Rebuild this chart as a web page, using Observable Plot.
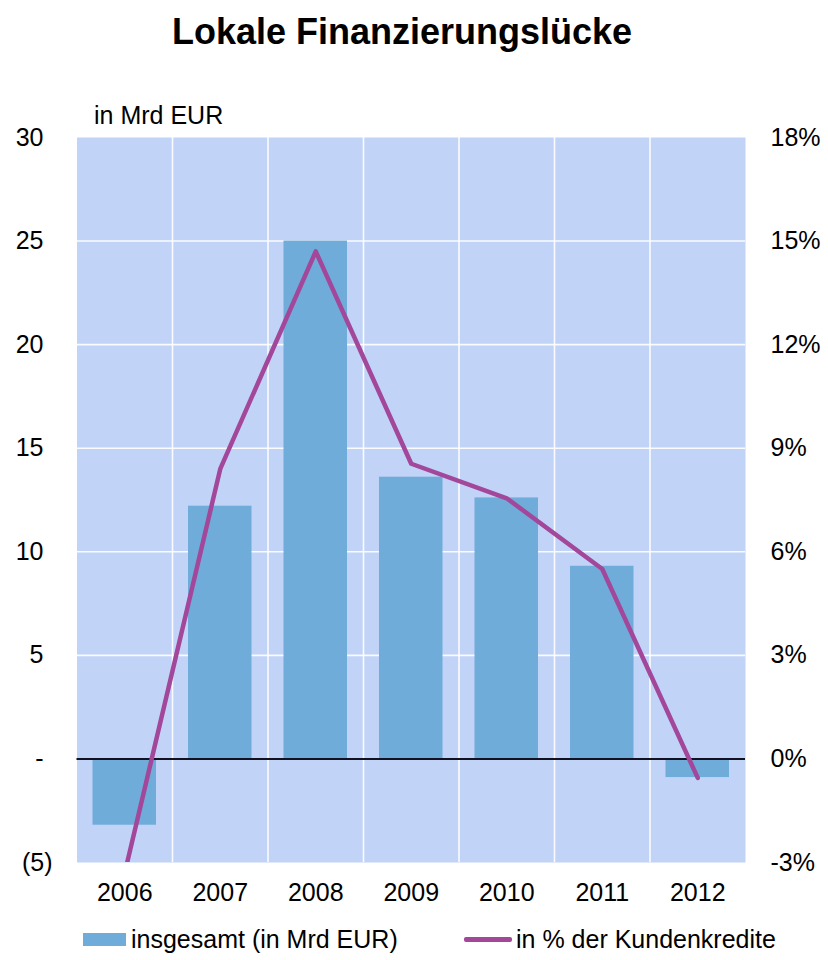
<!DOCTYPE html>
<html>
<head>
<meta charset="utf-8">
<script src="https://cdn.jsdelivr.net/npm/d3@7"></script>
<script src="https://cdn.jsdelivr.net/npm/@observablehq/plot@0.6"></script>
<style>
  body { margin: 0; background: #fff; font-family: "Liberation Sans", Arial, sans-serif; color: #000; }
  #wrap { position: relative; width: 828px; height: 960px; overflow: hidden; }
  #title { position: absolute; left: 0; top: 11px; width: 804px; text-align: center; font-weight: bold; font-size: 36px; line-height: 1.15; }
  #chart { position: absolute; left: 0; top: 80px; }
  .leg { position: absolute; top: 924px; height: 30px; display: flex; align-items: center; font-size: 25px; white-space: nowrap; }
  .sw-bar { width: 43px; height: 13px; background: #70acd9; margin-right: 5px; }
  .sw-line { width: 48px; height: 5px; background: #a3479a; border-radius: 2px; margin-right: 4px; }
</style>
</head>
<body>
<div id="wrap">
  <div id="title">Lokale Finanzierungslücke</div>
  <div id="chart"></div>
  <div class="leg" style="left:83px"><div class="sw-bar"></div><span>insgesamt (in Mrd EUR)</span></div>
  <div class="leg" style="left:464px"><div class="sw-line"></div><span>in % der Kundenkredite</span></div>
</div>
<script>
// ---- data ----
const years = [2006, 2007, 2008, 2009, 2010, 2011, 2012];
const insgesamt = [-3.2, 12.2, 25.0, 13.6, 12.6, 9.3, -0.9];          // Mrd EUR (left axis)
const kundenkredite = [-3.3, 8.4, 14.7, 8.55, 7.55, 5.5, -0.55];      // % (right axis)
const leftTicks = [-5, 0, 5, 10, 15, 20, 25, 30];
const leftTickLabels = ["(5)", "-", "5", "10", "15", "20", "25", "30"];
const rightTicks = [-3, 0, 3, 6, 9, 12, 15, 18];
const rightTickLabels = ["-3%", "0%", "3%", "6%", "9%", "12%", "15%", "18%"];

const data = years.map((year, i) => ({ year, value: insgesamt[i], pct: kundenkredite[i] }));

// map right-axis (percent) values onto the left-axis scale
const toLeft = d3.scaleLinear([-3, 18], [-5, 30]);
const leftLabel = new Map(leftTicks.map((t, i) => [t, leftTickLabels[i]]));
const rightLabel = new Map(rightTicks.map((t, i) => [toLeft(t), rightTickLabels[i]]));

const chart = Plot.plot({
  width: 828,
  height: 830,
  marginTop: 57,
  marginBottom: 48,
  marginLeft: 76.5,
  marginRight: 83,
  style: { fontSize: "25px", fontFamily: "'Liberation Sans', Arial, sans-serif", color: "#000", background: "transparent" },
  x: { domain: [2005.5, 2012.5], axis: null },
  y: { domain: [-5, 30], axis: null },
  marks: [
    Plot.frame({ fill: "#c1d3f7", stroke: null }),
    Plot.gridY(leftTicks.filter(t => t > 0 && t < 30), { stroke: "white", strokeOpacity: 0.9, strokeWidth: 1.6 }),
    Plot.ruleX(years.slice(0, -1).map(y => y + 0.5), { stroke: "white", strokeOpacity: 0.9, strokeWidth: 1.6 }),
    Plot.rectY(data, { x1: d => d.year - 0.5, x2: d => d.year + 0.5, y: "value", insetLeft: 16, insetRight: 16, fill: "#70acd9" }),
    Plot.ruleY([0], { stroke: "#111122", strokeWidth: 2 }),
    Plot.line(data, { x: "year", y: d => toLeft(d.pct), stroke: "#a3479a", strokeWidth: 4.5, clip: true }),
    Plot.axisX(years, { anchor: "bottom", label: null, tickSize: 0, tickPadding: 21, tickFormat: d => String(d) }),
    Plot.axisY(leftTicks.filter(t => t >= 0), { anchor: "left", label: null, tickSize: 0, tickPadding: 33.5, tickFormat: d => leftLabel.get(d) }),
    Plot.axisY(leftTicks.filter(t => t < 0), { anchor: "left", label: null, tickSize: 0, tickPadding: 24.5, tickFormat: d => leftLabel.get(d) }),
    Plot.axisY(rightTicks.map(t => toLeft(t)), { anchor: "right", label: null, tickSize: 0, tickPadding: 25, tickFormat: d => rightLabel.get(d) }),
    Plot.text(["in Mrd EUR"], { frameAnchor: "top-left", dx: 17, dy: -22, textAnchor: "start", lineAnchor: "middle", fontSize: 25 })
  ]
});
document.getElementById("chart").appendChild(chart);
</script>
</body>
</html>
